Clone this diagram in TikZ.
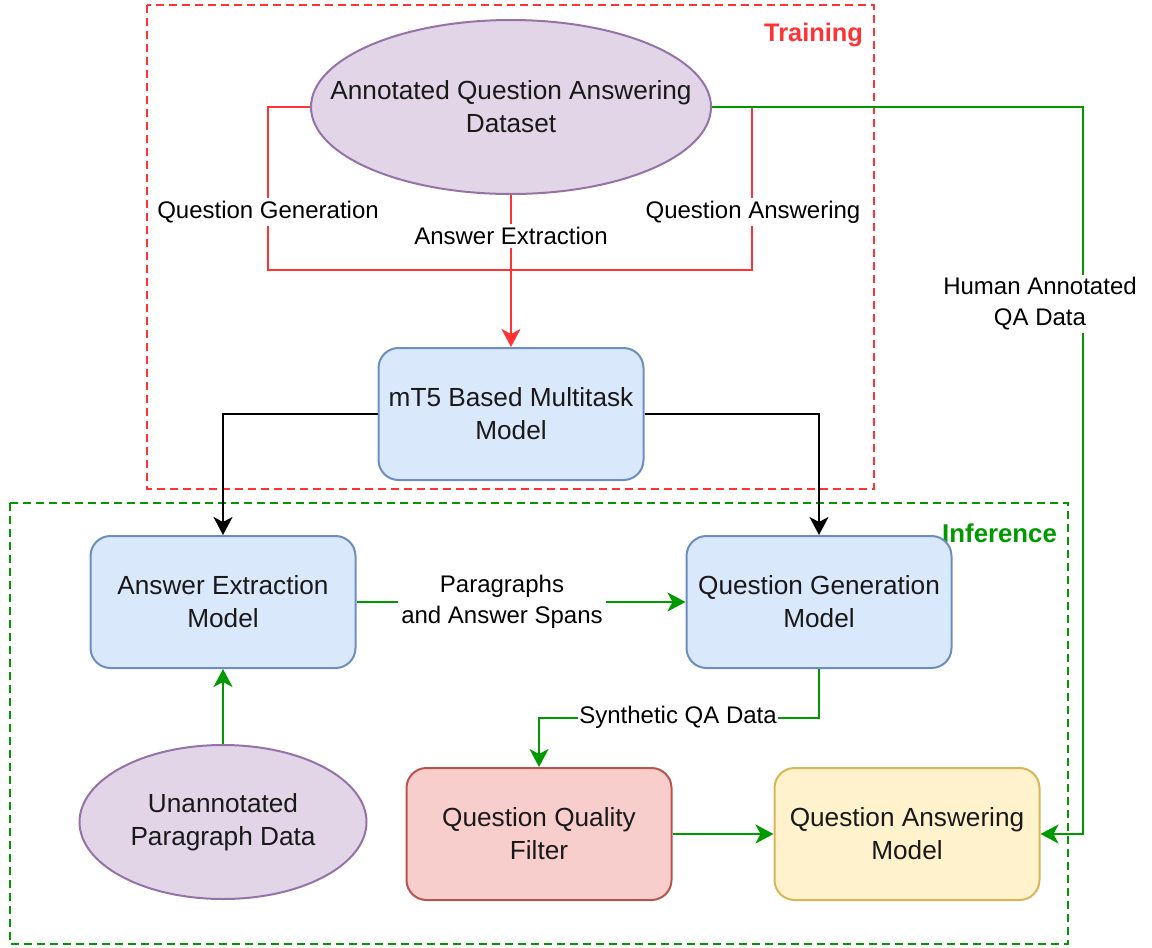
\documentclass[tikz,border=0pt]{standalone}
\usepackage{fontspec}
\setmainfont{Liberation Sans}
\usetikzlibrary{shapes.geometric,arrows.meta}
\definecolor{dsfill}{HTML}{E1D5E7}\definecolor{dsline}{HTML}{9673A6}
\definecolor{mfill}{HTML}{DAE8FC}\definecolor{mline}{HTML}{6C8EBF}
\definecolor{ffill}{HTML}{F8CECC}\definecolor{fline}{HTML}{B85450}
\definecolor{qfill}{HTML}{FFF2CC}\definecolor{qline}{HTML}{D6B656}
\definecolor{trainred}{HTML}{FF3333}\definecolor{infgreen}{HTML}{009900}
\begin{document}
\begin{tikzpicture}[
    x=0.5pt, y=-0.5pt,
    txt/.style={font=\fontsize{13.1pt}{16.5pt}\selectfont, align=center, text=black!90},
    data/.style={txt, ellipse, draw=dsline, fill=dsfill, line width=1pt, inner sep=0pt},
    model/.style={txt, rectangle, rounded corners=10pt, line width=1pt,
      minimum width=132.5pt, minimum height=66pt, inner sep=0pt},
    elab/.style={font=\fontsize{12pt}{15.5pt}\selectfont, align=center, fill=white, inner sep=1.5pt},
    stage/.style={line width=1pt, dash pattern=on 4pt off 2.5pt},
    tip/.style={-{Stealth[length=9pt, width=9.5pt, inset=2.5pt]}},
    trainedge/.style={trainred, line width=1pt},
    infedge/.style={infgreen, line width=1pt},
    blk/.style={black, line width=1pt, tip}]
  \useasboundingbox (0,0) rectangle (1152,948);
  % the two stages
  \draw[stage, trainred] (147,5) rectangle (874,489);
  \draw[stage, infgreen] (10,503) rectangle (1068,944);
  \node[anchor=east, font=\fontsize{12.7pt}{15pt}\selectfont\bfseries, text=trainred] (trainlab) at (870,35) {Training};
  \node[anchor=east, font=\fontsize{12.9pt}{15pt}\selectfont\bfseries, text=infgreen] (inflab) at (1064,533) {Inference};
  % nodes
  \node[data, minimum width=200pt, minimum height=87pt, inner xsep=-20pt] (ds) at (511,107) {Annotated Question Answering\\Dataset};
  \node[model, draw=mline, fill=mfill] (mt5) at (511,414) {mT5 Based Multitask\\Model};
  \node[model, draw=mline, fill=mfill] (aem) at (223,602) {Answer Extraction\\Model};
  \node[model, draw=mline, fill=mfill] (qgm) at (819,602) {Question Generation\\Model};
  \node[data, minimum width=143.5pt, minimum height=77pt] (upd) at (223,822) {Unannotated\\Paragraph Data};
  \node[model, draw=fline, fill=ffill] (qqf) at (539,834) {Question Quality\\Filter};
  \node[model, draw=qline, fill=qfill] (qam) at (907,834) {Question Answering\\Model};
  \coordinate (merge) at (511,270);
  \coordinate (hbend) at (1083,107);
  % training edges
  \draw[trainedge] (ds.west) -| (268,270) -- (merge);
  \draw[trainedge] (ds.east) -| (752,270) -- (merge);
  \draw[trainedge, tip] (ds.south) -- (mt5.north);
  \node[elab] at (268,212) {Question Generation};
  \node[elab] at (511,236) {Answer Extraction};
  \node[elab] at (753,212) {Question Answering};
  % multitask model feeds both inference models
  \draw[blk] (mt5.west) -| (aem.north);
  \draw[blk] (mt5.east) -| (qgm.north);
  % inference edges
  \draw[infedge, tip] (aem.east) -- (qgm.west);
  \node[elab] at (502,602) {Paragraphs\\and Answer Spans};
  \draw[infedge, tip] (upd.north) -- (aem.south);
  \draw[infedge, tip] (qgm.south) -- ++(0,49) -| (qqf.north);
  \node[elab, inner sep=0.5pt] at (678,717) {Synthetic QA Data};
  \draw[infedge, tip] (qqf.east) -- (qam.west);
  \draw[infedge, tip] (ds.east) -- (hbend) |- (qam.east);
  \node[elab] at (1040,304) {Human Annotated\\QA Data};
\end{tikzpicture}
\end{document}
